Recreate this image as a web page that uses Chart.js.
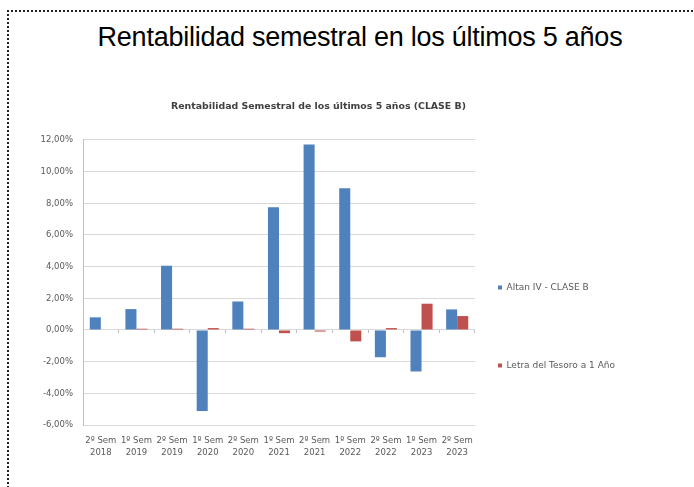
<!DOCTYPE html>
<html>
<head>
<meta charset="utf-8">
<script src="https://cdn.jsdelivr.net/npm/chart.js@4/dist/chart.umd.min.js"></script>
<style>
  html, body { margin: 0; padding: 0; background: #ffffff; width: 694px; height: 487px; overflow: hidden; position: relative; }
  #frame { position: absolute; left: 7px; top: 10px; width: 800px; height: 600px; border-top: 2px dotted #222; border-left: 2px dotted #222; }
  #bigTitle { position: absolute; left: 0; top: 24px; width: 720px; text-align: center; font-family: "Liberation Sans", Arial, sans-serif; font-size: 27px; line-height: 27px; letter-spacing: -0.25px; color: #000; white-space: nowrap; }
  #chart { position: absolute; left: 12px; top: 90px; }
</style>
</head>
<body>
<div id="frame"></div>
<div id="bigTitle">Rentabilidad semestral en los últimos 5 años</div>
<canvas id="chart" width="613" height="397"></canvas>
<script>
const chartTitle = 'Rentabilidad Semestral de los últimos 5 años (CLASE B)';
const categories = [
  ['2º Sem', '2018'], ['1º Sem', '2019'], ['2º Sem', '2019'], ['1º Sem', '2020'],
  ['2º Sem', '2020'], ['1º Sem', '2021'], ['2º Sem', '2021'], ['1º Sem', '2022'],
  ['2º Sem', '2022'], ['1º Sem', '2023'], ['2º Sem', '2023']
];
const seriesNames = ['Altan IV - CLASE B', 'Letra del Tesoro a 1 Año'];
const altanValues = [0.80, 1.32, 4.06, -5.12, 1.80, 7.75, 11.72, 8.95, -1.72, -2.62, 1.30];
const letraValues = [0.00, 0.08, 0.08, 0.12, 0.08, -0.20, -0.10, -0.72, 0.12, 1.66, 0.88];
const yMin = -6, yMax = 12, yStep = 2;

const smallFont = 'DejaVu Sans';
// blank legend entries (near-zero height) used only to space the two real entries apart
const spacer = () => ({ text: [''], fillStyle: 'rgba(0,0,0,0)', strokeStyle: 'rgba(0,0,0,0)', lineWidth: 0, hidden: false });

new Chart(document.getElementById('chart'), {
  type: 'bar',
  data: {
    labels: categories,
    datasets: [
      { label: seriesNames[0], data: altanValues, backgroundColor: '#4F81BD', categoryPercentage: 0.62, barPercentage: 1.0 },
      { label: seriesNames[1], data: letraValues, backgroundColor: '#C0504D', categoryPercentage: 0.62, barPercentage: 1.0 }
    ]
  },
  options: {
    responsive: false,
    animation: false,
    devicePixelRatio: 1,
    layout: { padding: { left: 0, right: 0, top: 0, bottom: 28.3 } },
    plugins: {
      tooltip: { enabled: false },
      title: {
        display: true,
        text: chartTitle,
        color: '#404040',
        font: { family: smallFont, size: 9.4, weight: 'bold' },
        padding: { top: 11, bottom: 27.7 }
      },
      legend: {
        display: true,
        position: 'right',
        onClick: null,
        title: { display: true, text: '', font: { size: 10, lineHeight: 1.21 }, padding: 0 },
        labels: {
          color: '#595959',
          font: { family: smallFont, size: 9, lineHeight: 0.001 },
          boxWidth: 4,
          boxHeight: 4,
          padding: 23,
          generateLabels: (chart) => {
            const items = Chart.defaults.plugins.legend.labels.generateLabels(chart);
            return [spacer(), spacer(), spacer(), spacer(), items[0], spacer(), spacer(), items[1]];
          }
        }
      }
    },
    scales: {
      x: {
        type: 'category',
        position: 'bottom',
        offset: true,
        afterFit: (s) => { s.height = 33.7; },
        grid: { display: false, drawTicks: false },
        border: { display: true, color: '#d9d9d9' },
        ticks: {
          color: '#595959',
          font: { family: smallFont, size: 8.5, lineHeight: 1.41 },
          padding: 9.7,
          maxRotation: 0,
          autoSkip: false
        }
      },
      x0: {
        type: 'category',
        axis: 'x',
        position: { y: 0 },
        offset: true,
        ticks: { display: false },
        grid: { drawOnChartArea: false, drawTicks: true, tickLength: 3, offset: true, color: '#bfbfbf' },
        border: { display: true, color: '#d9d9d9' }
      },
      y: {
        min: yMin,
        max: yMax,
        afterFit: (s) => { s.width = 71; },
        grid: { color: '#d9d9d9', drawTicks: false },
        border: { display: true, color: '#bfbfbf' },
        ticks: {
          stepSize: yStep,
          color: '#595959',
          font: { family: smallFont, size: 8.5 },
          padding: 10,
          callback: (v) => v.toFixed(2).replace('.', ',') + '%'
        }
      }
    }
  }
});
</script>
</body>
</html>
